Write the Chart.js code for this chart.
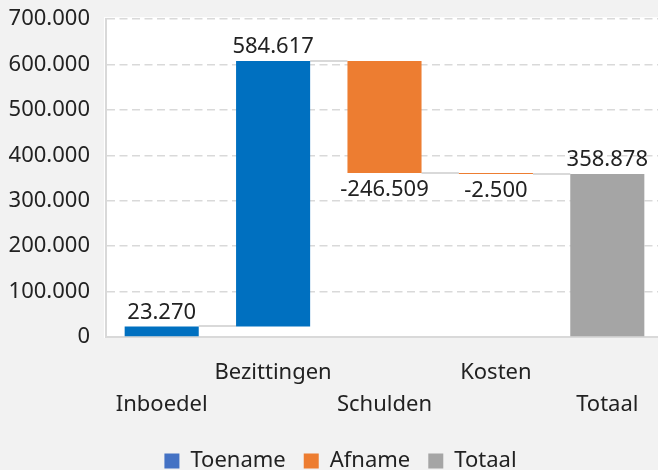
<!DOCTYPE html>
<html><head><meta charset="utf-8">
<script src="https://cdn.jsdelivr.net/npm/chart.js@4/dist/chart.umd.min.js"></script>
<style>html,body{margin:0;padding:0;background:#f2f2f2;overflow:hidden;}#wrap{width:658px;height:470px;overflow:hidden;}</style>
</head><body><div id="wrap"><canvas id="c" width="663" height="470"></canvas></div>
<script>
// ---- data ----
const categories = ['Inboedel', 'Bezittingen', 'Schulden', 'Kosten', 'Totaal'];
const changes = [23270, 584617, -246509, -2500];
const totalValue = 358878;
const seriesNames = ['Toename', 'Afname', 'Totaal'];
const yTickMin = 0;
const yTickMax = 700000;
const yTickStep = 100000;

// ---- styles ----
const FONT = "'Noto Sans', 'Open Sans', sans-serif";
const TEXT = '#222222';
const barColors = ['#0070C0', '#ED7D31', '#A5A5A5'];
const legendColors = ['#4472C4', '#ED7D31', '#A5A5A5'];
const GRID = '#d9d9d9';

function fmt(n) {
  const s = Math.abs(Math.round(n)).toString().replace(/\B(?=(\d{3})+(?!\d))/g, '.');
  return (n < 0 ? '-' : '') + s;
}

// floating ranges built from the changes
let run = 0;
const ranges = changes.map(v => { const s = run; run += v; return [s, run]; });
ranges.push([0, totalValue]);
const labelValues = changes.concat([totalValue]);

const upData = ranges.map((r, i) => (i < changes.length && changes[i] > 0) ? r : null);
const downData = ranges.map((r, i) => (i < changes.length && changes[i] < 0) ? r : null);
const totData = ranges.map((r, i) => (i === changes.length) ? r : null);

const bgPlugin = {
  id: 'bg',
  afterLayout(chart) {
    if (chart.legend) { chart.legend.left += 9; chart.legend.right += 9; }
  },
  beforeDraw(chart) {
    const {ctx, chartArea: a} = chart;
    ctx.save();
    ctx.fillStyle = '#f2f2f2';
    ctx.fillRect(0, 0, chart.width, chart.height);
    ctx.fillStyle = '#ffffff';
    ctx.fillRect(a.left - 2, a.top - 2, a.right - a.left + 2, a.bottom - a.top + 3);
    ctx.restore();
  }
};

function barEl(chart, i) {
  for (let d = 0; d < chart.data.datasets.length; d++) {
    const v = chart.data.datasets[d].data[i];
    if (v) return chart.getDatasetMeta(d).data[i];
  }
  return null;
}

const connectorPlugin = {
  id: 'connectors',
  beforeDatasetsDraw(chart) {
    const {ctx} = chart;
    const y = chart.scales.y;
    ctx.save();
    ctx.strokeStyle = GRID;
    ctx.lineWidth = 2;
    for (let i = 0; i < ranges.length - 1; i++) {
      const a = barEl(chart, i), b = barEl(chart, i + 1);
      if (!a || !b) continue;
      const level = ranges[i][1];
      const py = Math.round(y.getPixelForValue(level));
      ctx.beginPath();
      ctx.moveTo(a.x + a.width / 2, py);
      ctx.lineTo(b.x - b.width / 2, py);
      ctx.stroke();
    }
    ctx.restore();
  }
};

const labelPlugin = {
  id: 'valueLabels',
  afterDatasetsDraw(chart) {
    const {ctx} = chart;
    const y = chart.scales.y;
    ctx.save();
    ctx.font = '22px ' + FONT;
    ctx.fillStyle = TEXT;
    ctx.textAlign = 'center';
    ctx.textBaseline = 'middle';
    for (let i = 0; i < ranges.length; i++) {
      const el = barEl(chart, i);
      if (!el) continue;
      const v = labelValues[i];
      const r = ranges[i];
      if (v >= 0) {
        ctx.fillText(fmt(v), el.x, y.getPixelForValue(Math.max(r[0], r[1])) - 14);
      } else {
        ctx.fillText(fmt(v), el.x, y.getPixelForValue(Math.min(r[0], r[1])) + 17);
      }
    }
    ctx.restore();
  }
};

new Chart(document.getElementById('c'), {
  type: 'bar',
  data: {
    labels: categories,
    datasets: [
      {label: seriesNames[0], data: upData, backgroundColor: barColors[0]},
      {label: seriesNames[1], data: downData, backgroundColor: barColors[1]},
      {label: seriesNames[2], data: totData, backgroundColor: barColors[2]}
    ]
  },
  options: {
    responsive: false,
    animation: false,
    devicePixelRatio: 1,
    grouped: false,
    categoryPercentage: 1,
    barPercentage: 0.665,
    layout: {padding: {top: 0, right: 0, bottom: -12, left: 0}},
    scales: {
      x: {
        grid: {display: false, drawTicks: false},
        border: {display: true, color: GRID, width: 2},
        ticks: {
          color: TEXT,
          font: {family: FONT, size: 22, lineHeight: 1.45},
          padding: 20,
          maxRotation: 0,
          autoSkip: false,
          callback: function (value, index) {
            const lbl = this.getLabelForValue(value);
            return index % 2 === 1 ? lbl : ['', lbl];
          }
        },
        afterFit(scale) { scale.height = 95; }
      },
      y: {
        min: yTickMin,
        max: yTickMax,
        grid: {color: GRID, lineWidth: 1.5, drawTicks: true, tickLength: 10, tickColor: 'rgba(0,0,0,0)'},
        border: {display: true, color: GRID, width: 2, dash: [8, 4.5]},
        ticks: {
          stepSize: yTickStep,
          color: TEXT,
          padding: 6,
          font: {family: FONT, size: 22},
          callback: v => fmt(v)
        },
        afterFit(scale) { scale.width = 106; }
      }
    },
    plugins: {
      tooltip: {enabled: false},
      legend: {
        position: 'bottom',
        labels: {
          boxWidth: 15,
          boxHeight: 15,
          padding: 18,
          color: TEXT,
          font: {family: FONT, size: 22},
          generateLabels(chart) {
            const items = Chart.defaults.plugins.legend.labels.generateLabels(chart);
            items.forEach((it, i) => { it.fillStyle = legendColors[i]; it.strokeStyle = legendColors[i]; it.lineWidth = 0; });
            return items;
          }
        }
      }
    }
  },
  plugins: [bgPlugin, connectorPlugin, labelPlugin]
});
</script>
</body></html>
